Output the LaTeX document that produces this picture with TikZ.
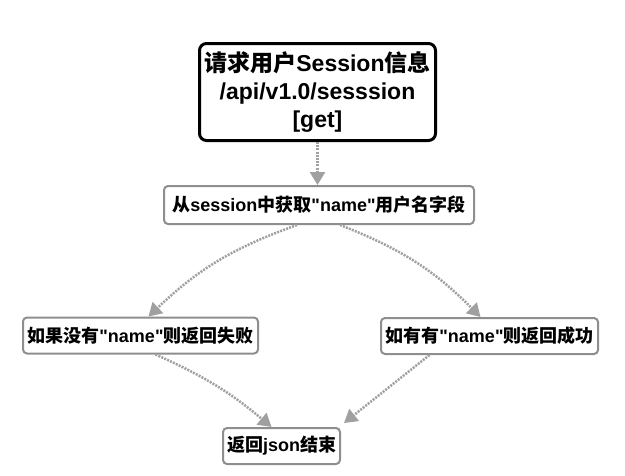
\documentclass[tikz,border=0pt]{standalone}
\usepackage{fontspec}
\setmainfont{Liberation Sans}
\newfontfamily\cjk{Noto Sans CJK SC}
\usetikzlibrary{arrows.meta}
\definecolor{boxgray}{HTML}{8E8E8E}
\definecolor{arrowgray}{HTML}{A0A0A0}
\newcommand{\zh}[1]{{\cjk #1}}
\newcommand{\q}{\textquotedbl}
\begin{document}
\begin{tikzpicture}[x=1pt,y=-1pt,
  box/.style={draw=boxgray, line width=2pt, rounded corners=4pt, fill=white,
    inner sep=0pt, font=\bfseries\fontsize{18}{22}\selectfont},
  topbox/.style={box, draw=black, line width=3pt, rounded corners=7pt,
    align=center, font=\bfseries\fontsize{23}{28}\selectfont},
  link/.style={draw=arrowgray, line width=2.5pt, dash pattern=on 2pt off 1.2pt,
    -{Triangle[length=13pt,width=15pt]}}]
\useasboundingbox (0,0) rectangle (625,475);

% boxes
\node[topbox, minimum width=236pt, minimum height=97pt] (req) at (317.5,92)
  {\zh{请求用户}Session\zh{信息}\\/api/v1.0/sesssion\\{[get]}};
\node[box, minimum width=310pt, minimum height=38pt] (field) at (319,205)
  {\zh{从}session\zh{中获取}\q name\q\zh{用户名字段}};
\node[box, minimum width=235pt, minimum height=36pt] (fail) at (140.5,335.5)
  {\zh{如果没有}\q name\q\zh{则返回失败}};
\node[box, minimum width=217pt, minimum height=36pt] (ok) at (489.5,336)
  {\zh{如有有}\q name\q\zh{则返回成功}};
\node[box, minimum width=117pt, minimum height=36pt] (done) at (281.5,446)
  {\zh{返回}json\zh{结束}};

% arrows
\draw[link] (req.south) -- (req.south |- field.north);
\draw[link] ([xshift=-22pt]field.south) to[bend right=12] ([xshift=8pt]fail.north);
\draw[link] ([xshift=21pt]field.south) to[bend left=12] ([xshift=-9pt]ok.north);
\draw[link] ([xshift=15pt]fail.south) to[bend left=8] ([xshift=-10pt]done.north);
\draw[link] ([xshift=-60pt]ok.south) -- ([xshift=3pt,yshift=4pt]done.north east);
\end{tikzpicture}
\end{document}
